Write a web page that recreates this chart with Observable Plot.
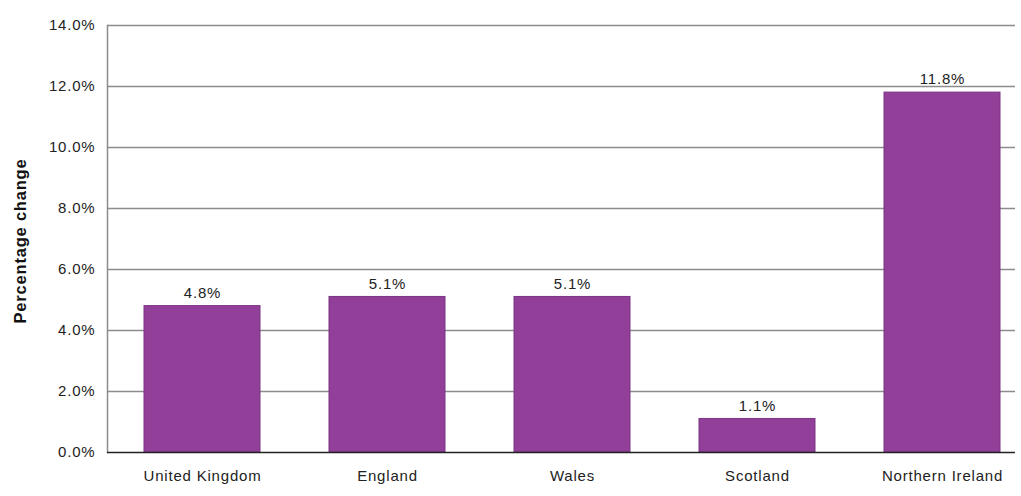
<!DOCTYPE html>
<html><head><meta charset="utf-8">
<script src="https://cdn.jsdelivr.net/npm/d3@7"></script>
<script src="https://cdn.jsdelivr.net/npm/@observablehq/plot@0.6"></script>
<style>
body{margin:0;background:#fff;}
</style>
</head><body>
<div id="chart"></div>
<script>
const regions = ["United Kingdom","England","Wales","Scotland","Northern Ireland"];
const changes = [4.8, 5.1, 5.1, 1.1, 11.8];
const yTicks = [0,2,4,6,8,10,12,14];

const data = regions.map((r,i)=>({region:r, value:changes[i]}));

const chart = Plot.plot({
  width: 1021,
  height: 496,
  marginLeft: 107,
  marginRight: 6,
  marginTop: 25,
  marginBottom: 44,
  style: {fontFamily: '"Liberation Sans",Arial,sans-serif', fontSize: "15px", color:"#222", background:"#fff", letterSpacing:"0.8px"},
  x: {domain: regions, range: [108, 1036], paddingInner: 0.375, paddingOuter: 0.19, label: null},
  y: {domain: [0,14], label: null},
  marks: [
    Plot.ruleY(yTicks.filter(d=>d>0), {stroke:"#8c8c8c", strokeWidth:1.5}),
    Plot.frame({anchor:"left", stroke:"#8c8c8c", strokeWidth:1.5}),
    Plot.barY(data, {x:"region", y:"value", fill:"#913f99", stroke:"#7a3583", strokeWidth:1}),
    Plot.ruleY([0], {stroke:"#222", strokeWidth:1.5}),
    Plot.text(data, {x:"region", y:"value", text: d=>d.value.toFixed(1)+"%", dy:-13, fontSize:15, fill:"#222"}),
    Plot.axisY({ticks: yTicks, tickFormat: d=>d.toFixed(1)+"%", tickSize:0, tickPadding:12, fontSize:15, fill:"#222", label:null}),
    Plot.axisX({tickSize:0, tickPadding:18, fontSize:15, fill:"#222", label:null}),
    Plot.text(["Percentage change"], {frameAnchor:"left", textAnchor:"middle", dx:-87, dy:2, rotate:-90, fontWeight:"bold", fontSize:16.5, fill:"#111"})
  ]
});
document.getElementById("chart").appendChild(chart);
</script>
</body></html>
